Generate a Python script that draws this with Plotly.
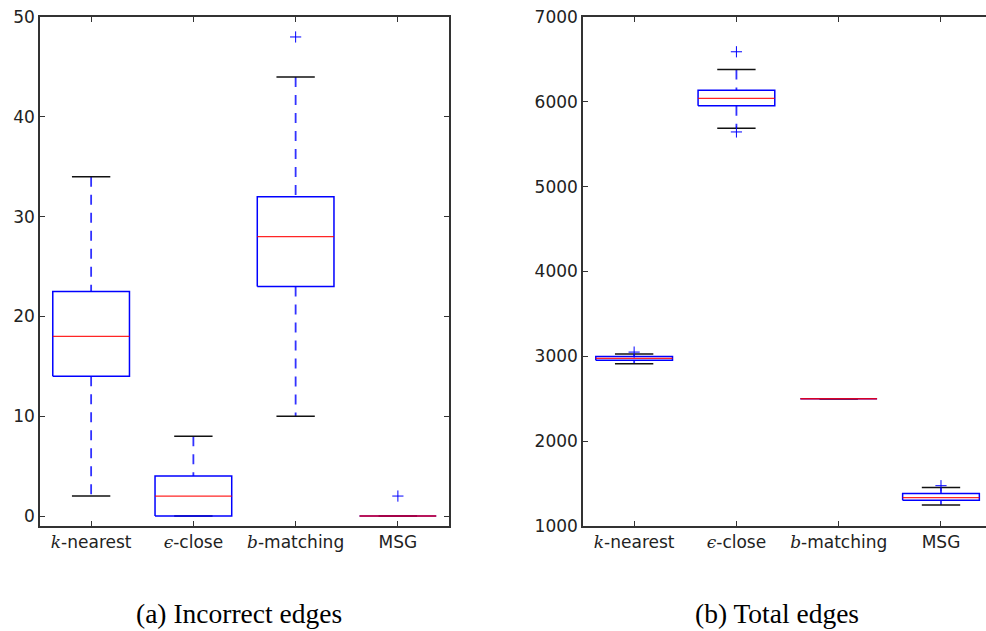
import plotly.graph_objects as go

# ---- data ----
categories = ["k-nearest", "ϵ-close", "b-matching", "MSG"]
tick_labels = [
    "<span style='font-family:DejaVu Serif'><i>k</i></span>-nearest",
    "<span style='font-family:DejaVu Serif'><i>ϵ</i></span>-close",
    "<span style='font-family:DejaVu Serif'><i>b</i></span>-matching",
    "MSG",
]
positions = [1, 2, 3, 4]

# (a) Incorrect edges
inc_lower = [2, 0, 10, 0]
inc_q1 = [14, 0, 23, 0]
inc_median = [18, 2, 28, 0]
inc_q3 = [22.5, 4, 32, 0]
inc_upper = [34, 8, 44, 0]
inc_outliers = [[], [], [48], [2]]

# (b) Total edges
tot_lower = [2913, 5690, 2500, 1248]
tot_q1 = [2955, 5953, 2500, 1303]
tot_median = [2975, 6040, 2500, 1335]
tot_q3 = [2998, 6137, 2500, 1382]
tot_upper = [3028, 6380, 2500, 1453]
tot_outliers = [[3050], [6590, 5645], [], [1475]]

captions = ["(a) Incorrect edges", "(b) Total edges"]

BLUE = "#0000ff"
RED = "#ff0000"
BLACK = "#111111"
AXIS = "#333333"
BOX_HW = 0.375
CAP_HW = 0.1875

fig = go.Figure()


def add_boxes(xref, yref, lower, q1, med, q3, upper, outliers):
    for i, p in enumerate(positions):
        # whiskers (dashed)
        fig.add_trace(go.Scatter(
            x=[p, p, None, p, p], y=[upper[i], q3[i], None, q1[i], lower[i]],
            mode="lines", line=dict(color=BLUE, width=1.8, dash="10px,8px"),
            opacity=0.8,
            xaxis=xref, yaxis=yref, hoverinfo="skip", showlegend=False))
        # caps
        fig.add_trace(go.Scatter(
            x=[p - CAP_HW, p + CAP_HW, None, p - CAP_HW, p + CAP_HW],
            y=[upper[i], upper[i], None, lower[i], lower[i]],
            mode="lines", line=dict(color=BLACK, width=1.5),
            xaxis=xref, yaxis=yref, hoverinfo="skip", showlegend=False))
        # box
        fig.add_trace(go.Scatter(
            x=[p - BOX_HW, p + BOX_HW, p + BOX_HW, p - BOX_HW, p - BOX_HW],
            y=[q1[i], q1[i], q3[i], q3[i], q1[i]],
            mode="lines", line=dict(color=BLUE, width=1.5),
            xaxis=xref, yaxis=yref, hoverinfo="skip", showlegend=False))
        # median
        fig.add_trace(go.Scatter(
            x=[p - BOX_HW, p + BOX_HW], y=[med[i], med[i]],
            mode="lines", line=dict(color=RED, width=1.3),
            opacity=0.85,
            xaxis=xref, yaxis=yref, hoverinfo="skip", showlegend=False))
        # outliers
        if outliers[i]:
            fig.add_trace(go.Scatter(
                x=[p] * len(outliers[i]), y=outliers[i], mode="markers",
                marker=dict(symbol="cross-thin", size=8,
                            line=dict(color=BLUE, width=1)),
                xaxis=xref, yaxis=yref, hoverinfo="skip", showlegend=False))


add_boxes("x", "y", inc_lower, inc_q1, inc_median, inc_q3, inc_upper, inc_outliers)
add_boxes("x2", "y2", tot_lower, tot_q1, tot_median, tot_q3, tot_upper, tot_outliers)

W, H = 986, 631
T, B = 17, 105
tickfont = dict(family="DejaVu Sans", size=17, color="#222222")

xcommon = dict(tickmode="array", tickvals=positions, ticktext=tick_labels,
               ticks="inside", ticklen=5, tickcolor=AXIS, tickwidth=1,
               showline=True, linecolor=AXIS, linewidth=1.5,
               showgrid=False, zeroline=False, tickfont=tickfont)
ycommon = dict(ticks="inside", ticklen=5, tickcolor=AXIS, tickwidth=1,
               showline=True, linecolor=AXIS, linewidth=1.5,
               showgrid=False, zeroline=False, tickfont=tickfont)

plot_h = H - T - B
cap_y = (H - B - 613) / plot_h
capfont = dict(family="Liberation Serif", size=27.5, color="black")

fig.update_layout(
    width=W, height=H,
    margin=dict(l=0, r=0, t=T, b=B),
    paper_bgcolor="white", plot_bgcolor="white",
    xaxis=dict(domain=[40 / W, 449 / W], range=[0.5, 4.5], anchor="y",
               mirror="ticks", **xcommon),
    yaxis=dict(domain=[0, 1], range=[-1, 50], anchor="x",
               tickvals=[0, 10, 20, 30, 40, 50], mirror="ticks", **ycommon),
    xaxis2=dict(domain=[583 / W, 1.0], range=[0.5, 4.44], anchor="y2",
                mirror="ticks", **xcommon),
    yaxis2=dict(domain=[0, 1], range=[1000, 7000], anchor="x2",
                tickvals=[1000, 2000, 3000, 4000, 5000, 6000, 7000],
                mirror=False, **ycommon),
    annotations=[
        dict(text=captions[0], x=239 / W, y=cap_y, xref="paper",
             yref="paper", xanchor="center", yanchor="middle",
             showarrow=False, font=capfont),
        dict(text=captions[1], x=777 / W, y=cap_y, xref="paper",
             yref="paper", xanchor="center", yanchor="middle",
             showarrow=False, font=capfont),
    ],
)

fig.write_html("out.html")
